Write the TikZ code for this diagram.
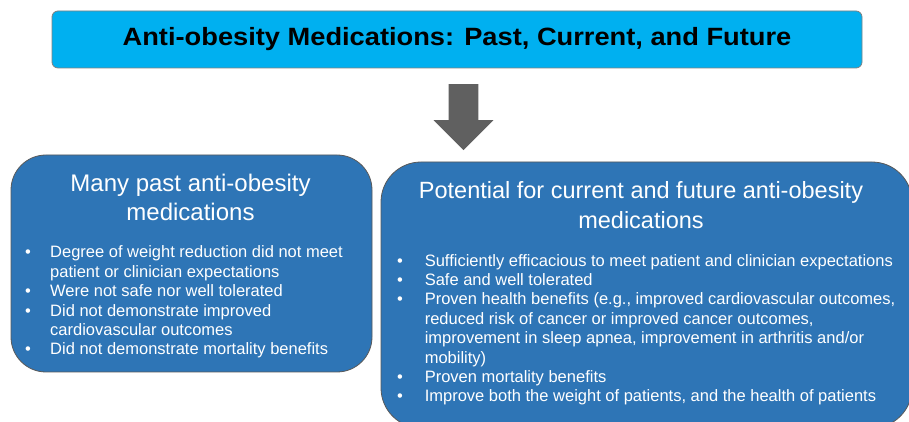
\documentclass[tikz,border=0pt]{standalone}
\usepackage{fontspec}
\setmainfont{Liberation Sans}
\usetikzlibrary{shapes.arrows,positioning}

\definecolor{titlecyan}{HTML}{00B0F0}
\definecolor{panelblue}{HTML}{2E75B6}
\definecolor{arrowgray}{HTML}{606060}

\newcommand{\bl}[1][25pt]{\makebox[#1][l]{•}}
\newcommand{\ct}[1][25pt]{\hspace*{#1}}

\tikzset{
    titlebox/.style={draw=gray, line width=0.8pt, fill=titlecyan, rounded corners=6pt,
        minimum width=810pt, minimum height=57pt, inner sep=0pt,
        font=\bfseries\fontsize{25}{30}\selectfont},
    panel/.style={draw=black!65, line width=0.8pt, fill=panelblue, inner sep=0pt},
    panelhead/.style={text=white, align=center, inner sep=0pt},
    panellist/.style={text=white, align=left, inner sep=0pt,
        font=\fontsize{16.5}{19.4}\selectfont},
    bigarrow/.style={single arrow, fill=arrowgray, draw=none, inner sep=14.75pt,
        minimum height=66pt, single arrow head extend=15pt,
        shape border rotate=270},
}

\begin{document}
\begin{tikzpicture}[x=1pt, y=1pt]
    \useasboundingbox (0, 0) rectangle (909, 422);
    \clip (0, 0) rectangle (909, 422);

    \node[titlebox] (title) at (457, 382.5)
        {\scalebox{1.09}[1]{Anti-obesity Medications: Past, Current, and Future}};

    \node[bigarrow, anchor=tail] (arrow) at (463.5, 338) {};

    % left panel
    \node[panel, rounded corners=35pt, minimum width=361pt, minimum height=217pt]
        (past) at (191.5, 158.5) {};
    \node[panelhead, font=\fontsize{24}{29}\selectfont, anchor=base]
        (pasthead) at (190.5, 201) {Many past anti-obesity\\medications};
    \node[panellist, anchor=base west] (pastlist) at (25, 67) {%
        \bl Degree of weight reduction did not meet\\
        \ct patient or clinician expectations\\
        \bl Were not safe nor well tolerated\\
        \bl Did not demonstrate improved\\
        \ct cardiovascular outcomes\\
        \bl Did not demonstrate mortality benefits};

    % right panel
    \node[panel, rounded corners=40pt, minimum width=531pt, minimum height=266pt]
        (future) at (646.5, 127) {};
    \node[panelhead, font=\fontsize{23.5}{30}\selectfont, anchor=base]
        (futurehead) at (641, 193) {Potential for current and future anti-obesity\\medications};
    \node[panellist, anchor=base west] (futurelist) at (397, 20) {%
        \bl[23pt] Sufficiently efficacious to meet patient and clinician expectations\\
        \bl[23pt] Safe and well tolerated\\
        \bl[23pt] Proven health benefits (e.g., improved cardiovascular outcomes,\\
        \ct[23pt] reduced risk of cancer or improved cancer outcomes,\\
        \ct[23pt] improvement in sleep apnea, improvement in arthritis and/or\\
        \ct[23pt] mobility)\\
        \bl[23pt] Proven mortality benefits\\
        \bl[23pt] Improve both the weight of patients, and the health of patients};
\end{tikzpicture}
\end{document}
